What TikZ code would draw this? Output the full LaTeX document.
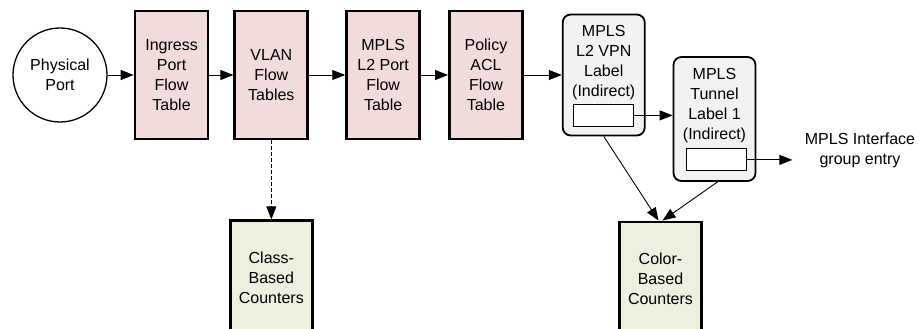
\documentclass[tikz,border=0pt]{standalone}
\usepackage{fontspec}
\setmainfont{Liberation Sans}
\usepackage{tikz}
\usetikzlibrary{positioning, arrows.meta}
\usepackage{xcolor}
\definecolor{tablepink}{HTML}{F2DCDB}
\definecolor{countgreen}{HTML}{EBF1DE}
\definecolor{labelgray}{HTML}{F2F2F2}

\begin{document}
\begin{tikzpicture}[x=1pt, y=-1pt, >={Triangle[length=13pt,width=10pt]},
                line width=0.9pt, font=\fontsize{16}{20}\selectfont,
                flowtab/.style={draw, line width=2.8pt, fill=tablepink, align=center,
                    minimum width=73pt, minimum height=128pt, inner sep=0pt},
                ctrbox/.style={draw, line width=2.8pt, fill=countgreen, align=center,
                    minimum width=82pt, minimum height=114pt, inner sep=0pt},
                lblbox/.style={draw, line width=1.8pt, fill=labelgray, rounded corners=8pt,
                    minimum width=82pt, inner sep=0pt},
                slot/.style={draw, line width=0.9pt, fill=white, minimum width=60pt,
                    minimum height=22pt, inner sep=0pt}]

                \useasboundingbox (0,0) rectangle (919,329);
                \clip (0,0) rectangle (919,329);

                % ingress pipeline
                \node[draw, circle, line width=1.3pt, minimum size=94pt, align=center, inner sep=0pt]
                    (port) at (60,75) {Physical\\Port};
                \node[flowtab] (ingress) [right=26pt of port] {Ingress\\Port\\Flow\\Table};
                \node[flowtab] (vlan) [right=24pt of ingress] {VLAN\\Flow\\Tables};
                \node[flowtab] (l2port) [right=36pt of vlan] {MPLS\\L2 Port\\Flow\\Table};
                \node[flowtab] (policy) [right=27pt of l2port] {Policy\\ACL\\Flow\\Table};

                % indirect label groups
                \node[lblbox, minimum height=121pt] (l2vpn) [right=38pt of policy] {};
                \node[align=center] (l2vpntext) at ([yshift=12.5pt]l2vpn.center)
                    {MPLS\\L2 VPN\\Label\\(Indirect)};
                \node[slot] (vpnslot) at ([yshift=21pt]l2vpn.south) {};

                \node[lblbox, minimum height=124pt] (tunnel) at (714.5,119) {};
                \node[align=center] (tunneltext) at ([yshift=13pt]tunnel.center)
                    {MPLS\\Tunnel\\Label 1\\(Indirect)};
                \node[slot] (tunslot) at ([xshift=2pt,yshift=22pt]tunnel.south) {};

                \node[align=center, inner xsep=12pt] (iface) at (860,150) {MPLS Interface\\group entry};

                % counters
                \node[ctrbox] (class) [below=79pt of vlan] {Class-\\Based\\Counters};
                \node[ctrbox] (color) at (660.5,279) {Color-\\Based\\Counters};

                \path[->]
                (port) edge (ingress)
                (ingress) edge (vlan)
                (vlan) edge (l2port)
                (l2port) edge (policy)
                (policy) edge (l2vpn);

                \draw[->] (vpnslot.east) -- (vpnslot.east -| tunnel.west);
                \draw[->] (tunslot.east) -- (tunslot.east -| iface.west);
                \draw[->, dash pattern=on 4pt off 2pt] (vlan) -- (class);
                \draw[->] (l2vpn.south) -- ([xshift=-2pt]color.north);
                \draw[->] ([xshift=3pt]tunnel.south) -- ([xshift=2pt]color.north);

\end{tikzpicture}
\end{document}
